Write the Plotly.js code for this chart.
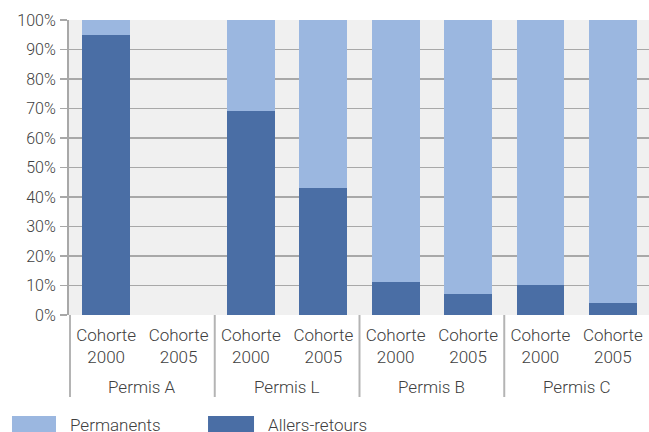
<!DOCTYPE html>
<html>
<head>
<meta charset="utf-8">
<script src="https://cdn.plot.ly/plotly-3.0.1.min.js"></script>
<style>html,body{margin:0;padding:0;background:#fff;}#chart{width:649px;height:432px;}</style>
</head>
<body>
<div id="chart"></div>
<script>
const groupNames = ["Permis A","Permis L","Permis B","Permis C"];
const categories = ["A 2000","A 2005","L 2000","L 2005","B 2000","B 2005","C 2000","C 2005"];
const cohortLabels = ["Cohorte<br>2000","Cohorte<br>2005","Cohorte<br>2000","Cohorte<br>2005","Cohorte<br>2000","Cohorte<br>2005","Cohorte<br>2000","Cohorte<br>2005"];
const allersRetours = [95, 0, 69, 43, 11.2, 7.1, 10.2, 4.1];
const hasData = [true, false, true, true, true, true, true, true];
const permanents = allersRetours.map((v, i) => hasData[i] ? 100 - v : 0);
const yTicks = [0,10,20,30,40,50,60,70,80,90,100];
const colDark = "#4a6ea5";
const colLight = "#9bb7e0";
const txt = "#404040";
const fnt = {family: "Roboto", size: 16, color: txt, weight: 300};
const xfnt = {family: "Roboto", size: 17, color: txt, weight: 300};

const traces = [
  {type: "bar", name: "Allers-retours", x: categories, y: allersRetours,
   marker: {color: colDark, line: {width: 0}}, showlegend: false, hoverinfo: "none"},
  {type: "bar", name: "Permanents", x: categories, y: permanents,
   marker: {color: colLight, line: {width: 0}}, showlegend: false, hoverinfo: "none"}
];

const groupSize = 2;
const dividerColor = "#b4b4b4";
const shapes = [];
for (let g = 0; g < groupNames.length; g++) {
  const xpos = g * groupSize - 0.5;
  shapes.push({type: "line", xref: "x", yref: "paper", x0: xpos, x1: xpos, y0: 0, y1: -0.278,
               line: {color: dividerColor, width: 2}});
}
shapes.push({type: "rect", xref: "paper", yref: "paper", x0: -0.0983, x1: -0.0224, y0: -0.342, y1: -0.43,
             fillcolor: colLight, line: {width: 0}});
shapes.push({type: "rect", xref: "paper", yref: "paper", x0: 0.2397, x1: 0.3190, y0: -0.342, y1: -0.43,
             fillcolor: colDark, line: {width: 0}});

const annotations = groupNames.map((name, g) => ({
  xref: "x", yref: "paper", x: g * groupSize + 0.5, y: -0.243, xanchor: "center", yanchor: "middle",
  text: name, showarrow: false, font: xfnt
}));
annotations.push({xref: "paper", yref: "paper", x: -0.0017, y: -0.374, xanchor: "left", yanchor: "middle",
  text: "Permanents", showarrow: false, font: xfnt});
annotations.push({xref: "paper", yref: "paper", x: 0.3397, y: -0.374, xanchor: "left", yanchor: "middle",
  text: "Allers-retours", showarrow: false, font: xfnt});

const layout = {
  width: 649, height: 432,
  margin: {l: 69, r: 0, t: 20, b: 117, pad: 0},
  barmode: "stack", bargap: 0.34,
  paper_bgcolor: "#ffffff", plot_bgcolor: "#f0f0f0",
  font: fnt,
  xaxis: {type: "category", tickvals: categories, ticktext: cohortLabels,
          showgrid: false, showline: false, zeroline: false,
          ticks: "", tickfont: xfnt, ticklabelstandoff: 8},
  yaxis: {range: [0, 100], tickvals: yTicks, ticktext: yTicks.map(v => v + "%"),
          showgrid: true, gridcolor: "#a8a8a8", gridwidth: 1.8,
          showline: true, linecolor: "#a8a8a8", linewidth: 2,
          ticks: "outside", ticklen: 7, tickcolor: "#a8a8a8", tickwidth: 1.8,
          zeroline: false, tickfont: fnt, ticklabelstandoff: 1},
  shapes: shapes,
  annotations: annotations
};

Plotly.newPlot("chart", traces, layout, {displayModeBar: false, staticPlot: true});
</script>
</body>
</html>
